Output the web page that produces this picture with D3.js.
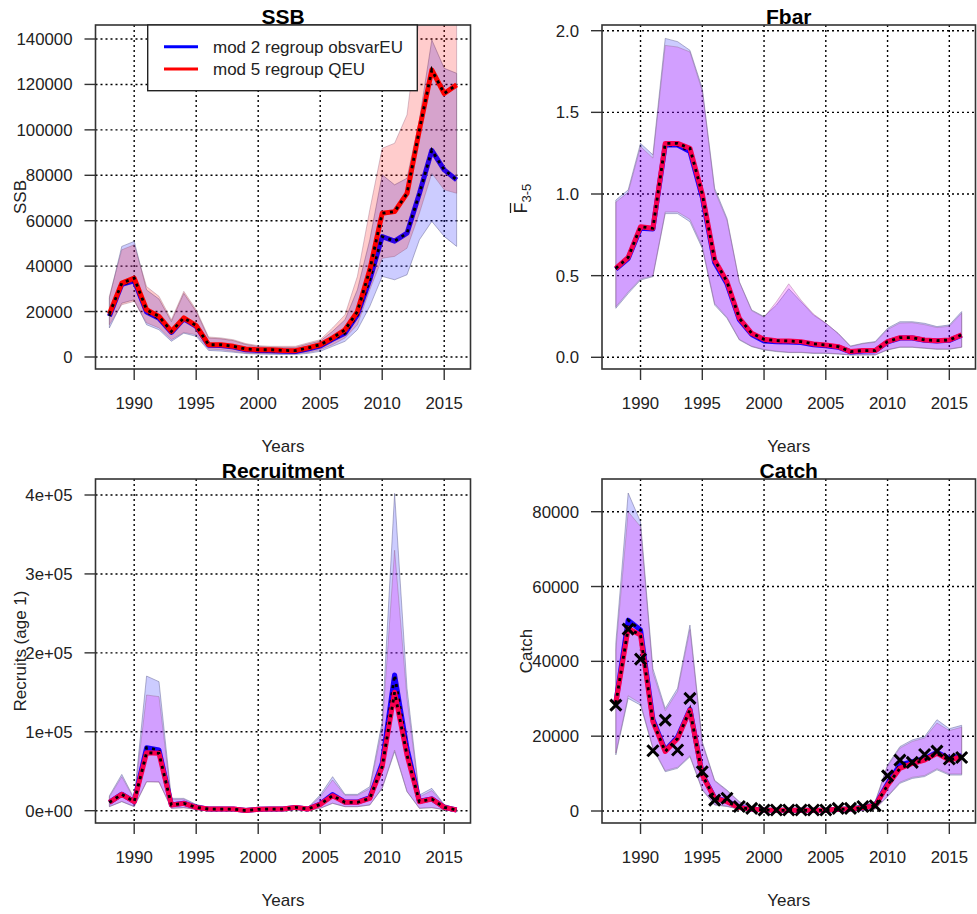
<!DOCTYPE html>
<html>
<head>
<meta charset="utf-8">
<script src="https://cdn.jsdelivr.net/npm/d3@7"></script>
<style>
  body { margin: 0; background: #fff; }
  text { font-family: "Liberation Sans", Arial, sans-serif; fill: #222; }
</style>
</head>
<body>
<script>
// years of the assessment
var years = [1988,1989,1990,1991,1992,1993,1994,1995,1996,1997,1998,1999,2000,2001,2002,
             2003,2004,2005,2006,2007,2008,2009,2010,2011,2012,2013,2014,2015,2016];
var yearTicks = [1990, 1995, 2000, 2005, 2010, 2015];
var modelNames = ["mod 2 regroup obsvarEU", "mod 5 regroup QEU"];

// SSB
var ssbM2   = [18000,32000,33500,19800,17000,10800,16800,13500,5200,5100,4400,3200,2900,2700,2500,2400,3500,4800,7800,10500,18600,34000,53000,51000,54500,72000,91000,82400,78000];
var ssbM2Lo = [12800,23700,25200,14200,12000,6900,10500,9100,2900,2600,2100,1500,1300,1200,1100,1100,1600,2500,4700,6900,12000,22300,35500,34000,36200,51600,59700,53100,48700];
var ssbM2Hi = [26000,48700,50900,29500,25500,15600,28000,20000,8300,8000,7200,5500,4600,4300,4200,4200,5700,7000,11300,16400,29600,51600,80200,75800,78700,104400,139600,127100,124900];
var ssbM5   = [19000,32500,34700,20800,17900,11300,17200,13800,5400,5400,4700,3500,3200,3200,2900,2800,4000,5400,8400,12000,20000,38400,63300,64000,72000,100000,126400,116000,119800];
var ssbM5Lo = [14200,23000,24500,15000,12800,7600,10800,9800,3500,3200,2500,1800,1500,1500,1500,1500,2000,3200,5400,8400,14200,29600,43500,44300,47900,63300,80900,73600,72100];
var ssbM5Hi = [26700,47200,49400,31000,26700,16400,28900,20800,8800,8400,7600,5900,5000,4700,4700,4700,6200,7600,12800,18600,35500,64800,91900,94100,106600,150000,200000,190000,195000];
var ssbTicks = [0,20000,40000,60000,80000,100000,120000,140000];

// Fbar (ages 3-5)
var fbarM2   = [0.54,0.605,0.79,0.785,1.30,1.30,1.26,0.98,0.58,0.45,0.23,0.14,0.10,0.095,0.094,0.09,0.077,0.07,0.062,0.033,0.039,0.04,0.094,0.118,0.118,0.104,0.10,0.104,0.135];
var fbarM2Lo = [0.30,0.39,0.473,0.494,0.88,0.88,0.83,0.667,0.32,0.239,0.106,0.065,0.045,0.035,0.029,0.029,0.024,0.024,0.02,0.014,0.014,0.014,0.045,0.061,0.061,0.055,0.049,0.049,0.061];
var fbarM2Hi = [0.963,1.025,1.31,1.24,1.953,1.933,1.88,1.647,1.035,0.851,0.463,0.29,0.249,0.32,0.42,0.34,0.259,0.208,0.147,0.069,0.086,0.096,0.178,0.218,0.218,0.208,0.188,0.198,0.28];
var fbarM5   = [0.545,0.612,0.80,0.79,1.31,1.31,1.28,1.00,0.596,0.463,0.239,0.147,0.11,0.102,0.10,0.096,0.082,0.076,0.065,0.035,0.041,0.041,0.096,0.12,0.12,0.106,0.102,0.106,0.137];
var fbarM5Lo = [0.31,0.40,0.48,0.50,0.89,0.89,0.845,0.68,0.33,0.245,0.11,0.068,0.048,0.038,0.031,0.031,0.026,0.026,0.022,0.015,0.016,0.016,0.047,0.063,0.063,0.057,0.051,0.051,0.063];
var fbarM5Hi = [0.95,1.01,1.29,1.22,1.91,1.90,1.87,1.63,1.02,0.84,0.46,0.285,0.245,0.34,0.45,0.35,0.265,0.21,0.145,0.066,0.083,0.092,0.17,0.21,0.212,0.2,0.182,0.19,0.27];
var fbarTicks = [0, 0.5, 1.0, 1.5, 2.0];

// Recruitment (age 1)
var recM2   = [10600,20900,11600,79800,76900,7400,9500,4300,2100,2100,2100,200,1700,2100,2100,4200,2100,8500,20500,11000,11000,16500,60000,172000,79000,12000,15000,4300,900];
var recM2Lo = [5100,11400,5100,36700,36700,3000,3800,1700,400,400,400,100,400,400,400,1500,400,3000,9300,5100,5100,7200,28300,74800,24100,3000,3800,1300,400];
var recM2Hi = [19000,46000,15600,170600,163500,15600,15600,8000,3800,3800,3800,3000,3800,3800,3800,5500,3800,19900,43100,20700,20700,30400,112800,402000,155000,19900,28300,8000,2100];
var recM5   = [10600,20700,11400,73500,72700,7200,9300,4200,2100,2100,2100,200,1700,2100,2100,4200,2100,8000,19000,10600,10600,15600,55800,150000,70500,11400,14800,4200,850];
var recM5Lo = [5300,11800,5300,36700,36200,3100,3900,1700,400,400,400,100,400,400,400,1500,400,3100,9500,5200,5200,7400,29000,76900,24500,3100,3900,1300,400];
var recM5Hi = [17500,43000,14500,146600,144500,14000,14500,7500,3500,3500,3500,2500,3500,3500,3500,5000,3500,17500,38900,19500,19500,28000,104300,330000,142000,17500,25500,7500,2000];
var recTicks = [0, 100000, 200000, 300000, 400000];
var recTickLabels = ["0e+00", "1e+05", "2e+05", "3e+05", "4e+05"];

// Catch
var catchObs  = [28300,48600,40600,16100,24300,16300,30100,10500,2900,3400,1200,700,270,270,270,270,270,270,700,700,1200,1400,9400,13600,13000,15100,16000,13900,14300];
var catchM2   = [29000,51000,48400,24500,16200,19800,27200,9800,3500,2600,950,520,280,190,190,190,190,190,460,540,920,1450,7300,12300,13200,14000,15700,14000,14800];
var catchM2Lo = [15000,30100,28300,16700,10500,11400,14500,5600,1600,1200,450,180,90,90,90,90,90,90,90,90,90,530,3800,7400,8700,9200,11000,9600,9600];
var catchM2Hi = [45000,85000,77300,38100,27400,32800,49700,18500,8200,5600,2500,1200,700,700,700,700,700,700,900,1200,1600,2500,12300,17200,19000,19900,24400,22000,22900];
var catchM5   = [28800,48800,47000,23900,15900,19400,27000,9600,3400,2500,900,500,270,180,180,180,180,180,450,530,900,1400,6900,11400,12700,13600,15400,13600,14500];
var catchM5Lo = [15500,30800,28800,17000,10800,11700,14800,5800,1700,1300,480,200,100,100,100,100,100,100,100,100,100,560,4000,7700,9000,9500,11300,9900,9900];
var catchM5Hi = [43000,80000,76000,37000,26800,32000,48500,18000,8000,5400,2400,1150,680,680,680,680,680,680,880,1150,1550,2400,12000,16800,18600,19500,23500,21500,22400];
var catchTicks = [0,20000,40000,60000,80000];

var width = 977, height = 914;
var svg = d3.select("body").append("svg")
    .attr("width", width)
    .attr("height", height);

// x extent like R's default 4% padding
var xDomain = [1986.88, 2017.12];

function panel(p) {
    var g = svg.append("g");
    var x = d3.scaleLinear().domain(xDomain).range([p.box[0], p.box[2]]);
    var y = d3.scaleLinear().domain([0, p.ticks[p.ticks.length - 1]]).range([p.y0, p.yTop]);

    var clipId = "clip" + p.id;
    svg.append("clipPath").attr("id", clipId)
      .append("rect")
        .attr("x", p.box[0]).attr("y", p.box[1])
        .attr("width", p.box[2] - p.box[0]).attr("height", p.box[3] - p.box[1]);

    // grid
    g.selectAll(".hg").data(p.ticks).enter().append("line")
        .attr("x1", p.box[0]).attr("x2", p.box[2])
        .attr("y1", d => y(d)).attr("y2", d => y(d))
        .attr("stroke", "#000").attr("stroke-width", 1.4).attr("stroke-dasharray", "2,3");
    g.selectAll(".vg").data(yearTicks).enter().append("line")
        .attr("x1", d => x(d)).attr("x2", d => x(d))
        .attr("y1", p.box[1]).attr("y2", p.box[3])
        .attr("stroke", "#000").attr("stroke-width", 1.4).attr("stroke-dasharray", "2,3");

    var plot = g.append("g").attr("clip-path", "url(#" + clipId + ")");

    var area = function (lo, hi) {
        return d3.area()
            .x((d, i) => x(years[i]))
            .y0((d, i) => y(lo[i]))
            .y1((d, i) => y(hi[i]))(years);
    };
    var line = d3.line().x((d, i) => x(years[i])).y(d => y(d));

    // confidence bands
    plot.append("path").attr("d", area(p.m2Lo, p.m2Hi))
        .attr("fill", "rgba(0,0,255,0.2)")
        .attr("stroke", "rgba(90,90,140,0.45)").attr("stroke-width", 1);
    plot.append("path").attr("d", area(p.m5Lo, p.m5Hi))
        .attr("fill", p.band5)
        .attr("stroke", "rgba(140,90,120,0.35)").attr("stroke-width", 1);

    // estimates: coloured line with black dotted overlay
    [[p.m2, p.col2], [p.m5, p.col5]].forEach(function (s) {
        plot.append("path").attr("d", line(s[0]))
            .attr("fill", "none").attr("stroke", s[1]).attr("stroke-width", 5)
            .attr("stroke-linejoin", "round");
        plot.append("path").attr("d", line(s[0]))
            .attr("fill", "none").attr("stroke", "#000").attr("stroke-width", 2.8)
            .attr("stroke-dasharray", "3,4.5");
    });

    // observed points (pch 4)
    if (p.obs) {
        plot.selectAll(".obs").data(p.obs).enter().append("path")
            .attr("d", function (d, i) {
                var cx = x(years[i]), cy = y(d), r = 5.5;
                return "M" + (cx - r) + "," + (cy - r) + "L" + (cx + r) + "," + (cy + r) +
                       "M" + (cx - r) + "," + (cy + r) + "L" + (cx + r) + "," + (cy - r);
            })
            .attr("stroke", "#000").attr("stroke-width", 3).attr("fill", "none");
    }

    // box
    g.append("rect")
        .attr("x", p.box[0]).attr("y", p.box[1])
        .attr("width", p.box[2] - p.box[0]).attr("height", p.box[3] - p.box[1])
        .attr("fill", "none").attr("stroke", "#333").attr("stroke-width", 1.6);

    // y axis
    g.selectAll(".yt").data(p.ticks).enter().append("line")
        .attr("x1", p.box[0] - 11).attr("x2", p.box[0])
        .attr("y1", d => y(d)).attr("y2", d => y(d))
        .attr("stroke", "#333").attr("stroke-width", 1.4);
    g.selectAll(".yl").data(p.ticks).enter().append("text")
        .attr("x", p.box[0] - 23).attr("y", d => y(d) + 6)
        .attr("text-anchor", "end").style("font-size", "16.8px")
        .text((d, i) => p.tickLabels ? p.tickLabels[i] : (p.fmt ? p.fmt(d) : d));

    // x axis
    g.selectAll(".xt").data(yearTicks).enter().append("line")
        .attr("x1", d => x(d)).attr("x2", d => x(d))
        .attr("y1", p.box[3]).attr("y2", p.box[3] + 11)
        .attr("stroke", "#333").attr("stroke-width", 1.4);
    g.selectAll(".xl").data(yearTicks).enter().append("text")
        .attr("x", d => x(d)).attr("y", p.box[3] + 40)
        .attr("text-anchor", "middle").style("font-size", "16.8px")
        .text(d => d);

    g.append("text")
        .attr("x", (p.box[0] + p.box[2]) / 2).attr("y", p.box[3] + 83)
        .attr("text-anchor", "middle").style("font-size", "17px")
        .text("Years");

    // title
    g.append("text")
        .attr("x", (p.box[0] + p.box[2]) / 2).attr("y", p.box[1] - 1)
        .attr("text-anchor", "middle").style("font-size", "21px").style("font-weight", "bold")
        .style("fill", "#000")
        .text(p.title);

    // y label
    if (p.ylab) {
        g.append("text")
            .attr("transform", "translate(" + p.ylabX + "," + ((p.box[1] + p.box[3]) / 2) + ") rotate(-90)")
            .attr("text-anchor", "middle").style("font-size", "17px")
            .text(p.ylab);
    }
    return g;
}

var redBand = "rgba(255,0,0,0.2)";
var violetBand = "rgba(230,0,255,0.22)";

var gSSB = panel({
    id: "ssb", title: "SSB", box: [95.5, 25, 470.5, 369], y0: 357, yTop: 39,
    ticks: ssbTicks, ylab: "SSB", ylabX: 26,
    m2: ssbM2, m2Lo: ssbM2Lo, m2Hi: ssbM2Hi, m5: ssbM5, m5Lo: ssbM5Lo, m5Hi: ssbM5Hi,
    band5: redBand, col2: "#2a00e8", col5: "#ff0000"
});

var gF = panel({
    id: "fbar", title: "Fbar", box: [602, 25, 975.5, 369], y0: 357.3, yTop: 30.7,
    ticks: fbarTicks, fmt: d3.format(".1f"),
    m2: fbarM2, m2Lo: fbarM2Lo, m2Hi: fbarM2Hi, m5: fbarM5, m5Lo: fbarM5Lo, m5Hi: fbarM5Hi,
    band5: violetBand, col2: "#1a00ff", col5: "#fa0050"
});

panel({
    id: "rec", title: "Recruitment", box: [95.5, 479, 470.5, 823], y0: 810.7, yTop: 495,
    ticks: recTicks, tickLabels: recTickLabels, ylab: "Recruits (age 1)", ylabX: 26,
    m2: recM2, m2Lo: recM2Lo, m2Hi: recM2Hi, m5: recM5, m5Lo: recM5Lo, m5Hi: recM5Hi,
    band5: violetBand, col2: "#1a00ff", col5: "#fa0050"
});

panel({
    id: "catch", title: "Catch", box: [602, 479, 975.5, 823], y0: 811, yTop: 511.7,
    ticks: catchTicks, ylab: "Catch", ylabX: 532,
    m2: catchM2, m2Lo: catchM2Lo, m2Hi: catchM2Hi, m5: catchM5, m5Lo: catchM5Lo, m5Hi: catchM5Hi,
    obs: catchObs,
    band5: violetBand, col2: "#1a00ff", col5: "#fa0050"
});

// Fbar y label: F-bar with subscript 3-5
var fl = gF.append("g").attr("transform", "translate(521.5,200) rotate(-90)");
fl.append("text").attr("x", -13.5).attr("y", 5.5).style("font-size", "18px")
    .text("F")
  .append("tspan").attr("dy", 4).style("font-size", "13px").text("3-5");
fl.append("line").attr("x1", -13).attr("x2", -3).attr("y1", -11).attr("y2", -11)
    .attr("stroke", "#222").attr("stroke-width", 1.3);

// legend in SSB panel
var leg = gSSB.append("g");
leg.append("rect").attr("x", 147.7).attr("y", 25).attr("width", 269.6).attr("height", 65.7)
    .attr("fill", "#fff").attr("stroke", "#222").attr("stroke-width", 1.4);
var legCols = ["#0000ff", "#ff0000"];
modelNames.forEach(function (n, i) {
    var ly = 46.7 + i * 22.3;
    leg.append("line").attr("x1", 164).attr("x2", 198).attr("y1", ly).attr("y2", ly)
        .attr("stroke", legCols[i]).attr("stroke-width", 3);
    leg.append("text").attr("x", 213).attr("y", ly + 6).style("font-size", "17px").text(n);
});
</script>
</body>
</html>
